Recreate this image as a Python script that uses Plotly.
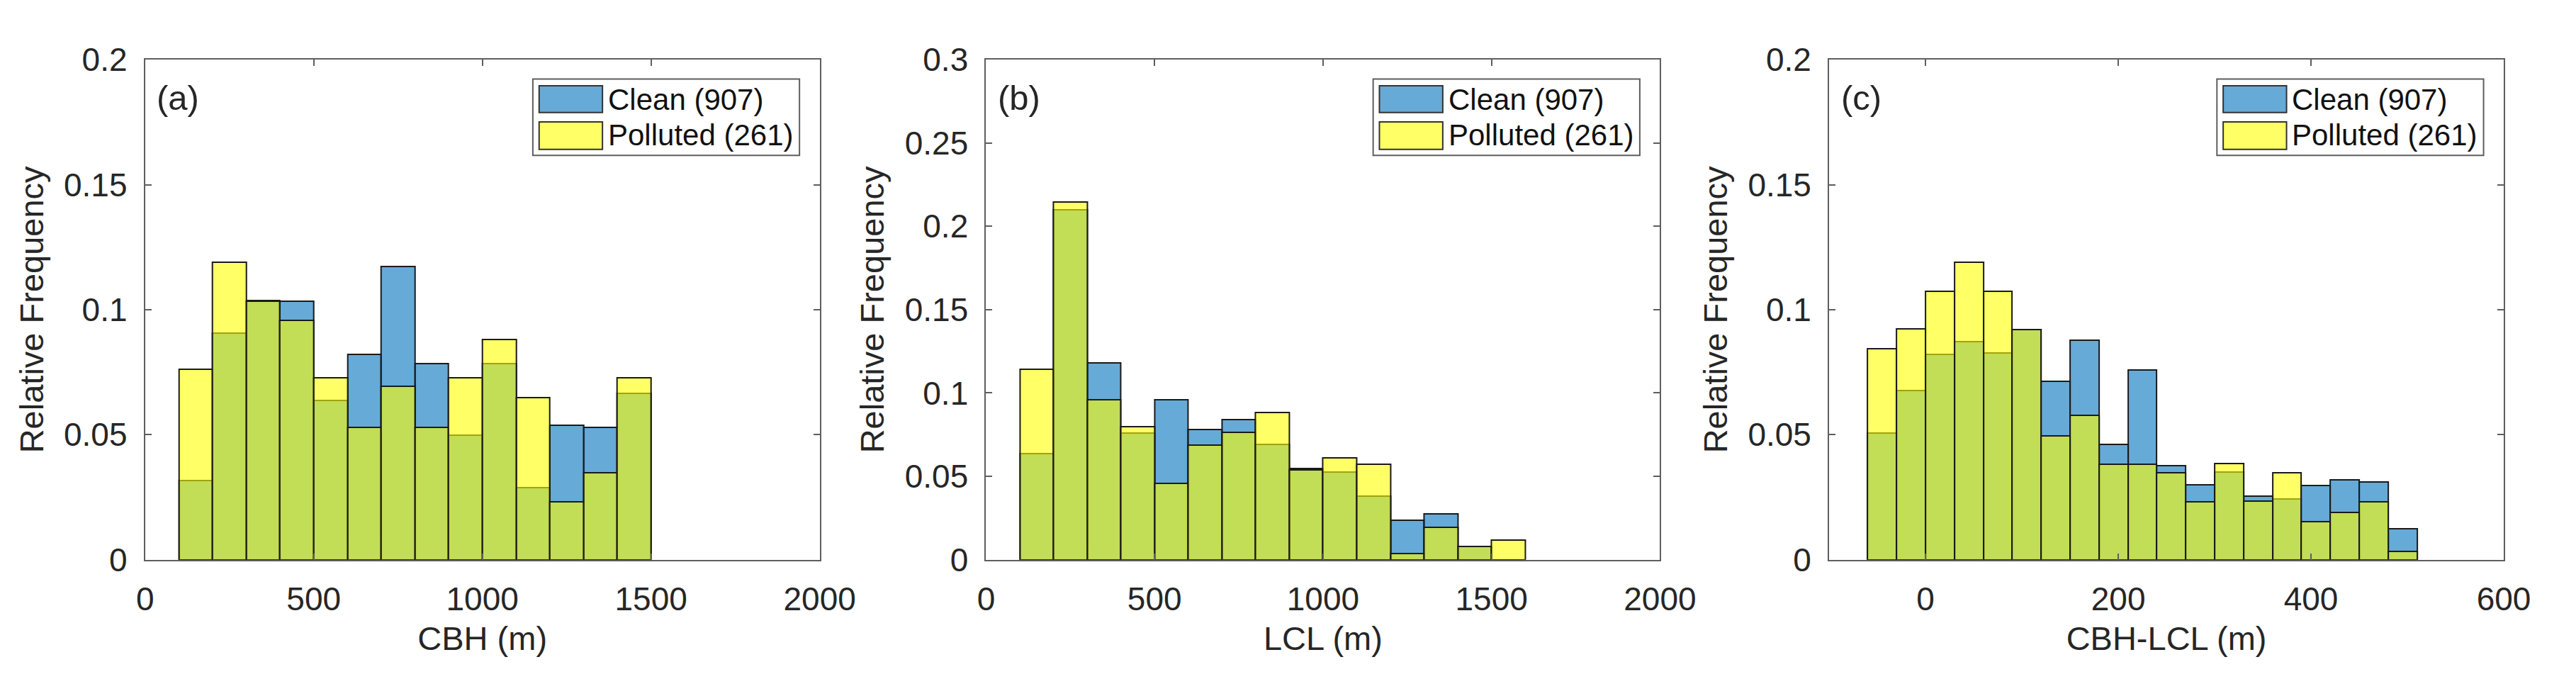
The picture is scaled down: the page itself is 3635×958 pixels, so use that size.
import plotly.graph_objects as go

W, H = 3635, 958

# ---------------- data ----------------
legend_labels = ["Clean (907)", "Polluted (261)"]
panel_tags = ["(a)", "(b)", "(c)"]
x_titles = ["CBH (m)", "LCL (m)", "CBH-LCL (m)"]
y_title = "Relative Frequency"

cbh_bin_left = [100, 200, 300, 400, 500, 600, 700, 800, 900, 1000, 1100, 1200, 1300, 1400]
cbh_bin_width = 100
cbh_clean = [0.0316, 0.0907, 0.1036, 0.1034, 0.0636, 0.0820, 0.1172, 0.0784, 0.0497, 0.0784,
             0.0287, 0.0538, 0.0528, 0.0664]
cbh_polluted = [0.0762, 0.1190, 0.1034, 0.0956, 0.0726, 0.0530, 0.0692, 0.0530, 0.0726, 0.0880,
                0.0648, 0.0231, 0.0346, 0.0726]

lcl_bin_left = [100, 200, 300, 400, 500, 600, 700, 800, 900, 1000, 1100, 1200, 1300, 1400, 1500]
lcl_bin_width = 100
lcl_clean = [0.0634, 0.2100, 0.1179, 0.0757, 0.0958, 0.0781, 0.0838, 0.0690, 0.0545, 0.0526,
             0.0381, 0.0238, 0.0273, 0.0077, 0.0]
lcl_polluted = [0.1143, 0.2145, 0.0958, 0.0799, 0.0457, 0.0688, 0.0764, 0.0882, 0.0536, 0.0609,
                0.0572, 0.0037, 0.0192, 0.0077, 0.0115]

diff_bin_left = [-60, -30, 0, 30, 60, 90, 120, 150, 180, 210, 240, 270, 300, 330, 360, 390,
                 420, 450, 480]
diff_bin_width = 30
diff_clean = [0.0507, 0.0675, 0.0822, 0.0871, 0.0825, 0.0919, 0.0714, 0.0877, 0.0462, 0.0757,
              0.0376, 0.0299, 0.0351, 0.0253, 0.0242, 0.0297, 0.0319, 0.0310, 0.0123]
diff_polluted = [0.0843, 0.0922, 0.1074, 0.1190, 0.1074, 0.0920, 0.0495, 0.0577, 0.0381, 0.0381,
                 0.0348, 0.0230, 0.0384, 0.0234, 0.0346, 0.0152, 0.0188, 0.0232, 0.0034]

x_ranges = [[0, 2000], [0, 2000], [-100, 600]]
x_tickvals = [[0, 500, 1000, 1500, 2000], [0, 500, 1000, 1500, 2000], [0, 200, 400, 600]]
x_ticktext = [["0", "500", "1000", "1500", "2000"], ["0", "500", "1000", "1500", "2000"],
              ["0", "200", "400", "600"]]
y_ranges = [[0, 0.2], [0, 0.3], [0, 0.2]]
y_tickvals = [[0, 0.05, 0.1, 0.15, 0.2], [0, 0.05, 0.1, 0.15, 0.2, 0.25, 0.3],
              [0, 0.05, 0.1, 0.15, 0.2]]
y_ticktext = [["0", "0.05", "0.1", "0.15", "0.2"],
              ["0", "0.05", "0.1", "0.15", "0.2", "0.25", "0.3"],
              ["0", "0.05", "0.1", "0.15", "0.2"]]

# ---------------- style ----------------
FONT = "Liberation Sans, Arial, Helvetica, sans-serif"
TXT = "#262626"
AXC = "#5e5e5e"
CLEAN_FILL = "rgba(0,114,189,0.6)"
POLL_FILL = "rgba(255,255,0,0.6)"
EDGE = "#1a1a1a"

panels_px = [(187, 1156), (1395, 2363), (2606, 3575)]
top_px, bot_px = 53, 799

def px(x):
    return x / W

def py(y):
    return 1 - y / H

data = [
    (cbh_bin_left, cbh_bin_width, cbh_clean, cbh_polluted),
    (lcl_bin_left, lcl_bin_width, lcl_clean, lcl_polluted),
    (diff_bin_left, diff_bin_width, diff_clean, diff_polluted),
]

fig = go.Figure()
layout = dict(
    width=W, height=H,
    margin=dict(l=0, r=0, t=0, b=0),
    paper_bgcolor="white", plot_bgcolor="white",
    barmode="overlay", bargap=0,
    showlegend=False,
    font=dict(family=FONT, size=46, color=TXT),
)

shapes = []
annotations = []

for i, (lefts, bw, clean, poll) in enumerate(data):
    n = "" if i == 0 else str(i + 1)
    xa, ya = "x" + n, "y" + n
    centers = [l + bw / 2 for l in lefts]
    fig.add_trace(go.Bar(x=centers, y=clean, width=[bw] * len(centers), name=legend_labels[0],
                         marker=dict(color=CLEAN_FILL, line=dict(color=EDGE, width=2)),
                         xaxis=xa, yaxis=ya))
    fig.add_trace(go.Bar(x=centers, y=poll, width=[bw] * len(centers), name=legend_labels[1],
                         marker=dict(color=POLL_FILL, line=dict(color=EDGE, width=2)),
                         xaxis=xa, yaxis=ya))
    L, R = panels_px[i]
    layout["xaxis" + n] = dict(
        domain=[px(L), px(R)], anchor=ya, range=x_ranges[i],
        tickvals=x_tickvals[i], ticktext=x_ticktext[i],
        showline=True, linecolor=AXC, linewidth=2, mirror="ticks",
        ticks="inside", ticklen=9, tickwidth=2, tickcolor=AXC,
        showgrid=False, zeroline=False,
        tickfont=dict(size=46, color=TXT), ticklabelstandoff=14,
        title=dict(text=x_titles[i], font=dict(size=47, color=TXT), standoff=14),
    )
    layout["yaxis" + n] = dict(
        domain=[py(bot_px), py(top_px)], anchor=xa, range=y_ranges[i],
        tickvals=y_tickvals[i], ticktext=y_ticktext[i],
        showline=True, linecolor=AXC, linewidth=2, mirror="ticks",
        ticks="inside", ticklen=9, tickwidth=2, tickcolor=AXC,
        showgrid=False, zeroline=False,
        tickfont=dict(size=46, color=TXT), ticklabelstandoff=14,
        title=dict(text=y_title, font=dict(size=47, color=TXT), standoff=14),
    )
    # panel tag
    annotations.append(dict(text=panel_tags[i], x=px(L + 15), y=py(110), xref="paper", yref="paper",
                            xanchor="left", yanchor="middle", showarrow=False,
                            font=dict(size=49, color=TXT, family=FONT)))
    # legend box
    bx0, bx1 = R - 412, R - 29
    shapes.append(dict(type="rect", xref="paper", yref="paper",
                       x0=px(bx0), x1=px(bx1), y0=py(196), y1=py(82),
                       line=dict(color=AXC, width=2), fillcolor="white", layer="above"))
    for k, (fill, y0, y1, yc) in enumerate([("rgb(102,170,215)", 92, 132, 113),
                                            ("rgb(255,255,102)", 146, 187, 166)]):
        shapes.append(dict(type="rect", xref="paper", yref="paper",
                           x0=px(bx0 + 9), x1=px(bx0 + 100), y0=py(y1), y1=py(y0),
                           line=dict(color="#333333", width=2), fillcolor=fill, layer="above"))
        annotations.append(dict(text=legend_labels[k], x=px(bx0 + 106), y=py(yc),
                                xref="paper", yref="paper", xanchor="left", yanchor="middle",
                                showarrow=False, font=dict(size=42, color="#111111", family=FONT)))

layout["shapes"] = shapes
layout["annotations"] = annotations
fig.update_layout(**layout)
fig.write_html("out.html")
